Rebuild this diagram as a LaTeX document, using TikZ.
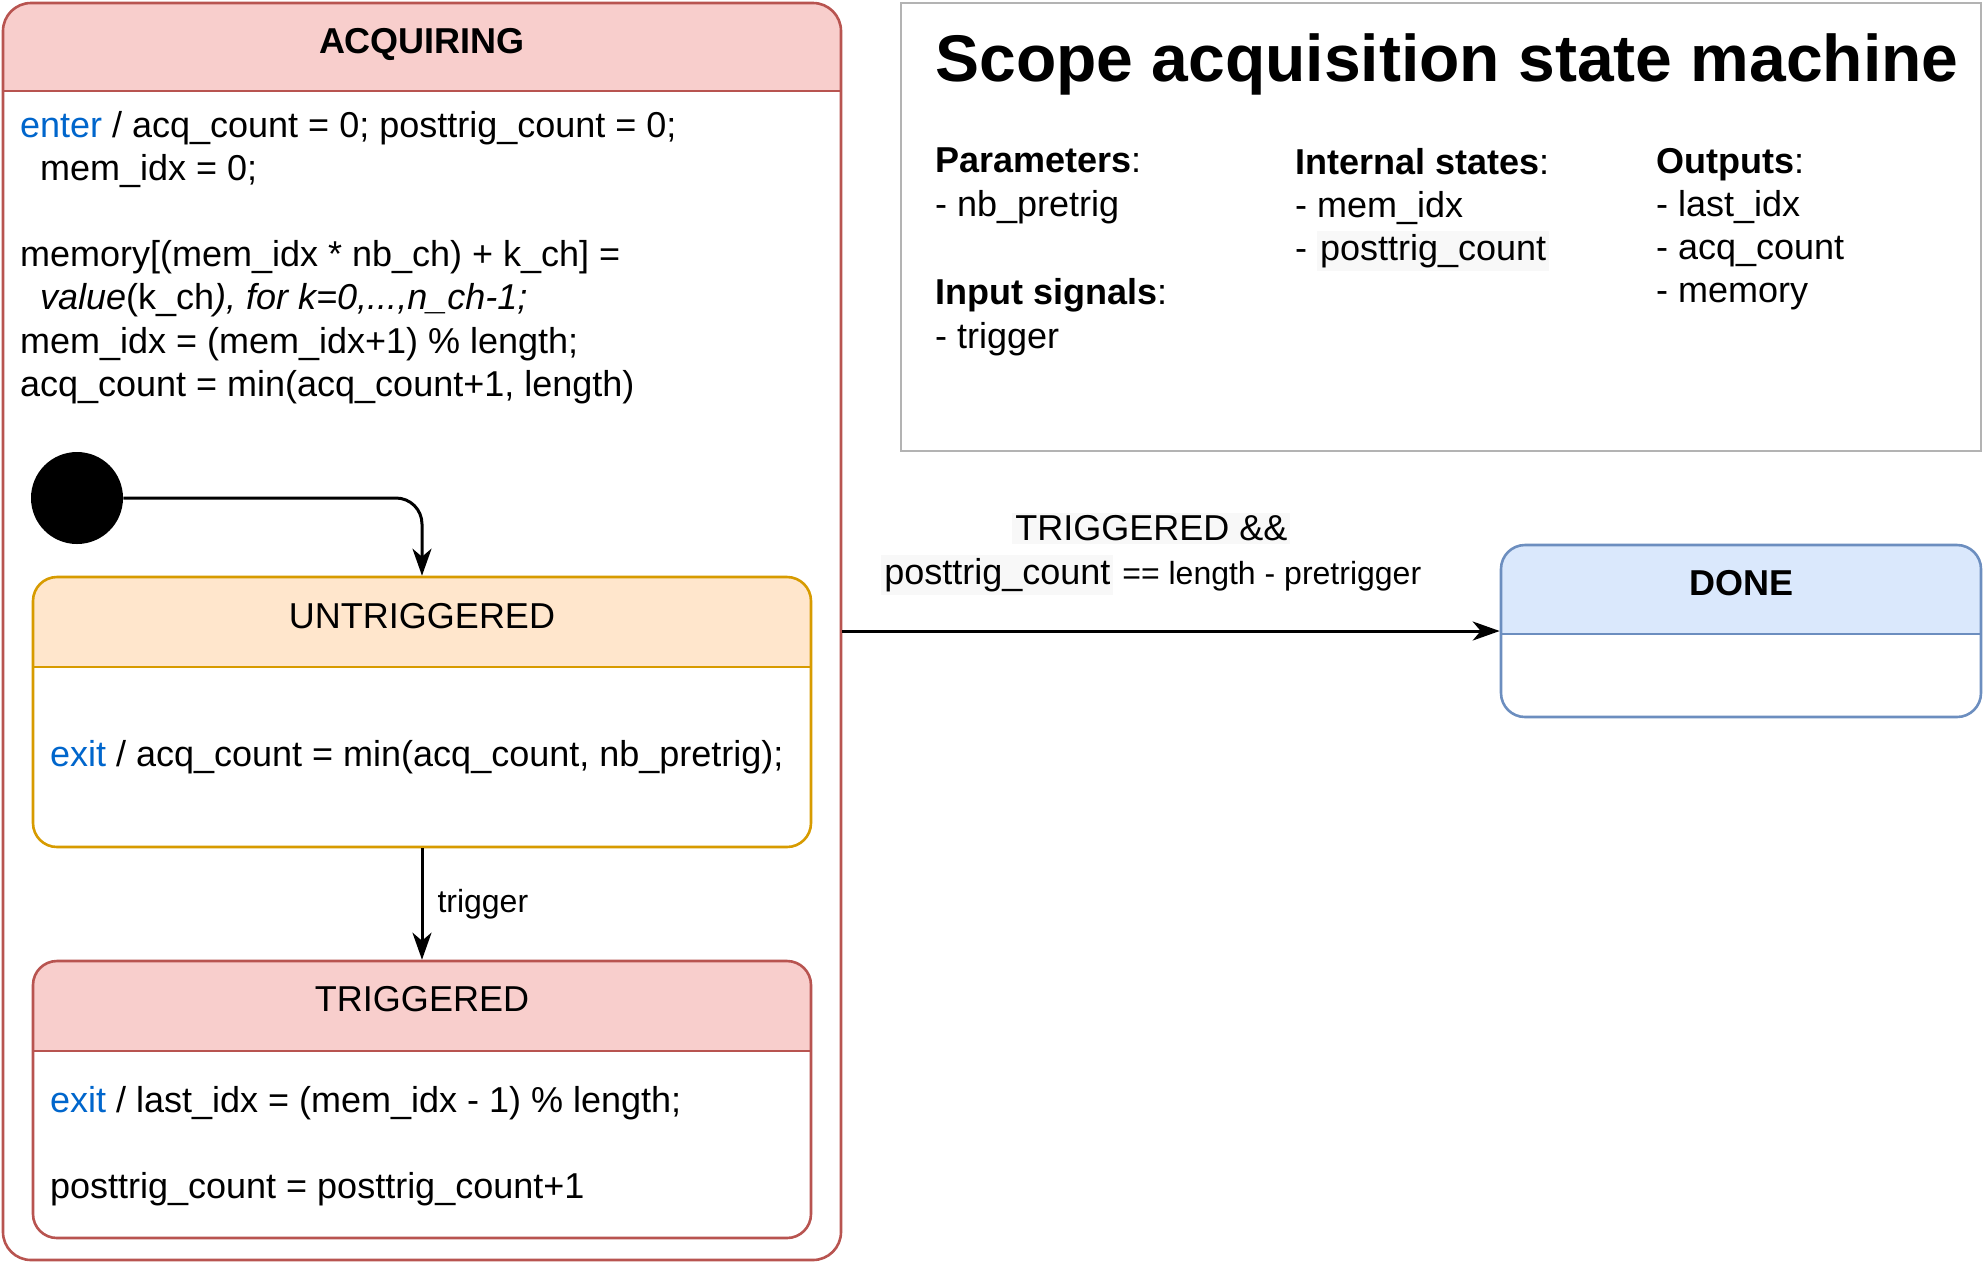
\documentclass[tikz,border=0pt]{standalone}
\usepackage{fontspec}
\setmainfont{Liberation Sans}
\usetikzlibrary{arrows.meta,calc,positioning}

\definecolor{acqfill}{HTML}{F8CECC}
\definecolor{acqline}{HTML}{B85450}
\definecolor{untrigfill}{HTML}{FFE6CC}
\definecolor{untrigline}{HTML}{D79B00}
\definecolor{donefill}{HTML}{DAE8FC}
\definecolor{doneline}{HTML}{6C8EBF}
\definecolor{boxgray}{HTML}{B3B3B3}
\definecolor{kwblue}{HTML}{0066CC}
\definecolor{hlgray}{HTML}{F8F8F8}

\newcommand{\bodysize}{\fontsize{18pt}{21.6pt}\selectfont}
\newcommand{\labelsize}{\fontsize{16pt}{19pt}\selectfont}
\newcommand{\headsize}{\fontsize{33pt}{40pt}\selectfont}
\newcommand{\kw}[1]{\textcolor{kwblue}{#1}}
\newcommand{\hl}[1]{{\setlength{\fboxsep}{1.5pt}\colorbox{hlgray}{#1}}}

\tikzset{
	statebox/.style n args={3}{draw=#2, line width=1.3pt, fill=white, rounded corners=12pt, inner sep=0pt,
		path picture={
			\fill[#1, sharp corners] (path picture bounding box.north west) rectangle ([yshift=-#3]path picture bounding box.north east);
			\draw[#2, line width=1.3pt] ([yshift=-#3]path picture bounding box.north west) -- ([yshift=-#3]path picture bounding box.north east);
		}},
	infobox/.style={draw=boxgray, line width=1.35pt, fill=white, minimum width=540pt, minimum height=224pt, inner sep=0pt},
	initstate/.style={circle, fill=black, minimum size=46pt, inner sep=0pt},
	statename/.style={anchor=base, inner sep=0pt, font=\bodysize},
	bodytext/.style={anchor=north west, align=left, inner sep=0pt, font=\bodysize},
	transition/.style={-{Stealth[length=13.5pt, width=9.5pt, inset=4pt]}, line width=1.5pt},
}

\begin{document}
\begin{tikzpicture}[x=0.5pt, y=-0.5pt]
	\useasboundingbox (0,0) rectangle (1983,1266);

	\node[statebox={acqfill}{acqline}{44pt}, rounded corners=14pt, minimum width=419pt, minimum height=628.5pt] (acq) at (422,631.5) {};
	\node[statebox={untrigfill}{untrigline}{45pt}, minimum width=389pt, minimum height=135pt] (untrig) at (422,712) {};
	\node[statebox={acqfill}{acqline}{45pt}, minimum width=389pt, minimum height=138.5pt] (trig) at (422,1099.5) {};
	\node[statebox={donefill}{doneline}{44.5pt}, minimum width=240pt, minimum height=86pt] (done) at (1741,631) {};
	\node[infobox] (info) at (1441,227) {};
	\node[initstate] (init) at (77,498) {};

	\node[statename, font=\bodysize\bfseries] (acqname) at ([yshift=-26pt]acq.north) {ACQUIRING};
	\node[statename] (untrigname) at ([yshift=-26.5pt]untrig.north) {UNTRIGGERED};
	\node[statename] (trigname) at ([yshift=-26pt]trig.north) {TRIGGERED};
	\node[statename, font=\bodysize\bfseries] (donename) at ([yshift=-26pt]done.north) {DONE};

	\node[bodytext] (acqbody) at ([xshift=9pt, yshift=-54.5pt]acq.north west) {\kw{enter} / acq\_count = 0; posttrig\_count = 0;\\
		\hspace*{10pt}mem\_idx = 0;\\
		\\
		memory[(mem\_idx * nb\_ch) + k\_ch] =\\
		\hspace*{10pt}\textit{value}(k\_ch\textit{), for k=0,...,n\_ch-1;}\\
		mem\_idx = (mem\_idx+1) \% length;\\
		acq\_count = min(acq\_count+1, length)};
	\node[bodytext, anchor=base west] (untrigbody) at ([xshift=9pt, yshift=-95.5pt]untrig.north west) {\kw{exit} / acq\_count = min(acq\_count, nb\_pretrig);};
	\node[bodytext] (trigbody) at ([xshift=9pt, yshift=-63pt]trig.north west) {\kw{exit} / last\_idx = (mem\_idx - 1) \% length;\\
		\\
		posttrig\_count = posttrig\_count+1};

	\node[anchor=base, inner sep=0pt, font=\headsize\bfseries] (heading) at ([xshift=3pt, yshift=-40pt]info.north) {Scope acquisition state machine};
	\node[bodytext, font=\fontsize{18pt}{22pt}\selectfont] (params) at ([xshift=17.5pt, yshift=-73pt]info.north west) {\textbf{Parameters}:\\- nb\_pretrig\\ \\\textbf{Input signals}:\\- trigger};
	\node[bodytext] (internals) at ([xshift=197.5pt, yshift=-73pt]info.north west) {\textbf{Internal states}:\\- mem\_idx\\- \hl{posttrig\_count}};
	\node[bodytext] (outputs) at ([xshift=378pt, yshift=-73pt]info.north west) {\textbf{Outputs}:\\- last\_idx\\- acq\_count\\- memory};

	\draw[transition, rounded corners=13pt] (init.east) -| (untrig.north);
	\draw[transition] (untrig.south) -- node[right=7pt, inner sep=0pt, font=\labelsize] (triglabel) {trigger} (trig.north);
	\draw[transition] (acq.east |- done.west) -- node[above=17.5pt, pos=0.47, align=center, inner sep=0pt, font=\bodysize] (donelabel) {\hl{TRIGGERED \&\&}\\\hl{posttrig\_count}{\labelsize{} == length - pretrigger}} (done.west);
\end{tikzpicture}
\end{document}
